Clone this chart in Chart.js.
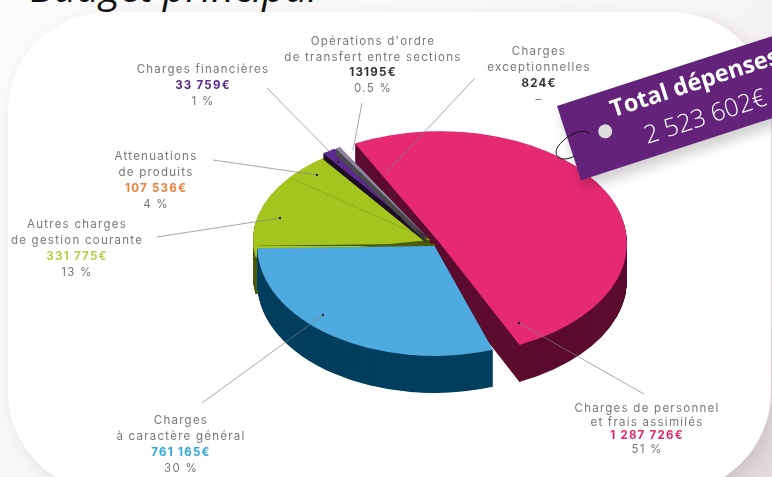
<!DOCTYPE html>
<html lang="fr">

<head>
    <meta charset="UTF-8">
    <title>Budget principal</title>
    <script src="https://cdn.jsdelivr.net/npm/chart.js"></script>
    <style>
        html, body { margin: 0; width: 772px; height: 477px; overflow: hidden; }
        body { position: relative; background: linear-gradient(135deg, #fbfbfb 0%, #f8f7f7 55%, #e2d8dd 100%); font-family: Inter, "Open Sans", sans-serif; }
        #titre { position: absolute; left: 30px; top: -35px; font: italic 400 39.6px/44px "Open Sans", sans-serif; color: #111; white-space: nowrap; }
        #carte { position: absolute; left: 8px; top: 12px; width: 763px; height: 480px; background: #fff; border-radius: 100px; box-shadow: 6px 6px 18px rgba(110, 70, 90, .16); }
        #graf { position: absolute; left: 0; top: 0; filter: blur(.4px); }
        .label { position: absolute; transform: translateX(-50%); text-align: center; white-space: nowrap; font-size: 11.5px; letter-spacing: 1.25px; color: #777; filter: blur(.5px); }
        .label b { font-weight: 700; }
        #tag { position: absolute; left: 557px; top: 106px; width: 300px; height: 78px; background: #63237b; transform-origin: 0 0; transform: rotate(-18deg); box-shadow: 0 9px 12px rgba(0, 0, 0, .18); color: #fff; font-family: "Open Sans", sans-serif; }
        #tag i { position: absolute; left: 31px; top: 32px; width: 14px; height: 14px; border-radius: 50%; background: #dcdcdc; }
        #tag .t1 { position: absolute; left: 50px; top: 3px; font-size: 23.5px; font-weight: 700; white-space: nowrap; }
        #tag .t2 { position: absolute; left: 74px; top: 37px; font-size: 25px; font-weight: 300; white-space: nowrap; }
        #fil { position: absolute; left: 0; top: 0; }
    </style>
</head>

<body>
    <div id="titre">Budget principal</div>
    <div id="carte"></div>
    <canvas id="graf" width="772" height="477"></canvas>
    <div id="labels"></div>
    <div id="tag"><i></i><div class="t1">Total dépenses</div><div class="t2">2 523 602€</div></div>
    <svg id="fil" width="772" height="477"><path d="M590 134C585 128 570 133 562 142C553 150 555 158 563 159C568 159 572 158 574 156" fill="none" stroke="#111" stroke-width="1"/></svg>

    <script>
        // valeurs
        const categories = ['Charges de personnel et frais assimilés', 'Charges à caractère général', 'Autres charges de gestion courante', 'Atténuations de produits', 'Charges financières', 'Opérations d\'ordre de transfert entre sections', 'Charges exceptionnelles'];
        const valeurs = [1287726, 761165, 331775, 107536, 33759, 13195, 824];
        const couleurs = ['#e62a72', '#4faadf', '#a5c41d', '#a5c41d', '#5b2a8c', '#8f84a0', '#6a6a6a'];
        const couleursBord = ['#5c0c2e', '#023f5f', '#4d5c0c', '#4d5c0c', '#1e0f26', '#4a4a4a', '#333333'];

        // réglages de la fausse perspective, tranche par tranche
        const decalages = [40, 24, 0, 0, 14, 14, 14];
        const profondeurs = [37, 37, 37, 37, 6, 6, 6];
        const aplatis = [0.60, 0.62, 0.58, 0.58, 0.58, 0.58, 0.58];
        const glissementsX = [1, 8, 0, 0, 0, 0, 0];
        const glissementsY = [6, 3, 0, 0, 0, 0, 0];
        const rotationsExtra = [-3.5, 2, -6.5, -6.5, -5, -5, -5];

        const textes = [
            { x: 373, y: 34, h: 15.7, l: ['Opérations d\'ordre', 'de transfert entre sections', '13195€', '0.5 %'], c: '#333', v: 2 },
            { x: 203, y: 61, h: 16, l: ['Charges financières', '33 759€', '1 %'], c: '#5b2d8a', v: 1 },
            { x: 539, y: 43, h: 16, l: ['Charges', 'exceptionnelles', '824€', '–'], c: '#333', v: 2 },
            { x: 156, y: 148, h: 16, l: ['Attenuations', 'de produits', '107 536€', '4 %'], c: '#f07f3c', v: 2 },
            { x: 77, y: 216, h: 16, l: ['Autres charges', 'de gestion courante', '331 775€', '13 %'], c: '#b7cf4b', v: 2 },
            { x: 181, y: 412, h: 16, l: ['Charges', 'à caractère général', '761 165€', '30 %'], c: '#2aa7e0', v: 2 },
            { x: 647, y: 402, h: 13.5, l: ['Charges de personnel', 'et frais assimilés', '1 287 726€', '51 %'], c: '#e5266f', v: 2 }
        ];

        const traits = [
            [267, 88, 330, 152, 338, 162],
            [362, 103, 353, 150],
            [475, 78, 386, 173],
            [213, 160, 317, 175, 317, 175],
            [157, 237, 280, 218, 280, 218],
            [202, 403, 323, 315, 323, 315],
            [644, 394, 519, 323, 519, 323]
        ];

        document.getElementById('labels').innerHTML = textes.map(t => `<div class="label" style="left:${t.x}px;top:${t.y}px;line-height:${t.h}px">` +
            t.l.map((s, i) => i === t.v ? `<b style="color:${t.c}">${s}</b>` : s).join('<br>') + '</div>').join('');

        const CY = 240;

        function tracer(ctx, arc, i, decalageY) {
            ctx.save();
            ctx.translate(glissementsX[i], CY + glissementsY[i] + decalageY);
            ctx.scale(1, aplatis[i]);
            ctx.translate(arc.x, 0);
            ctx.rotate(rotationsExtra[i] * Math.PI / 180);
            ctx.translate(-arc.x, -CY);
            arc.draw(ctx);
            ctx.restore();
        }

        function tracerCouleur(ctx, arc, i, couleur, decalageY) {
            const opts = arc.options;
            arc.options = Object.assign({}, opts, { backgroundColor: couleur, borderWidth: 0 });
            tracer(ctx, arc, i, decalageY);
            arc.options = opts;
        }

        function bord(ctx, arc, i) {
            for (let d = profondeurs[i]; d > 0; d -= 0.5) {
                tracerCouleur(ctx, arc, i, couleursBord[i], d);
            }
        }

        const pie3d = {
            id: 'pie3d',
            beforeDatasetsDraw(chart) {
                const ctx = chart.ctx;
                const arcs = chart.getDatasetMeta(0).data;
                const complet = function (i) { bord(ctx, arcs[i], i); tracer(ctx, arcs[i], i, 0); };

                // flanc rose d'abord, le reste passe devant
                bord(ctx, arcs[0], 0);
                [3, 2, 4, 5, 6].forEach(complet);
                // liseré sombre entre le vert et le bleu
                ctx.save();
                ctx.beginPath();
                ctx.rect(0, 0, chart.width, CY + 6);
                ctx.clip();
                tracerCouleur(ctx, arcs[1], 1, couleursBord[2], -2.5);
                ctx.restore();
                complet(1);
                tracer(ctx, arcs[0], 0, 0);
                return false;
            },
            afterDraw(chart) {
                const ctx = chart.ctx;
                ctx.save();
                ctx.strokeStyle = 'rgba(130,130,130,.7)';
                ctx.fillStyle = '#222';
                ctx.lineWidth = 1;
                traits.forEach(function (t) {
                    ctx.beginPath();
                    ctx.moveTo(t[0], t[1]);
                    ctx.lineTo(t[2], t[3]);
                    ctx.stroke();
                    if (t.length > 4) {
                        ctx.beginPath();
                        ctx.arc(t[4], t[5], 1.2, 0, Math.PI * 2);
                        ctx.fill();
                    }
                });
                ctx.restore();
            }
        };

        new Chart(document.getElementById('graf'), {
            type: 'pie',
            data: {
                labels: categories,
                datasets: [{
                    data: valeurs,
                    backgroundColor: couleurs,
                    borderWidth: 0,
                    offset: decalages
                }]
            },
            options: {
                responsive: false,
                animation: false,
                rotation: -24,
                radius: 177,
                layout: { padding: { left: 88, top: 3 } },
                plugins: { legend: { display: false }, tooltip: { enabled: false } }
            },
            plugins: [pie3d]
        });
    </script>
</body>

</html>
